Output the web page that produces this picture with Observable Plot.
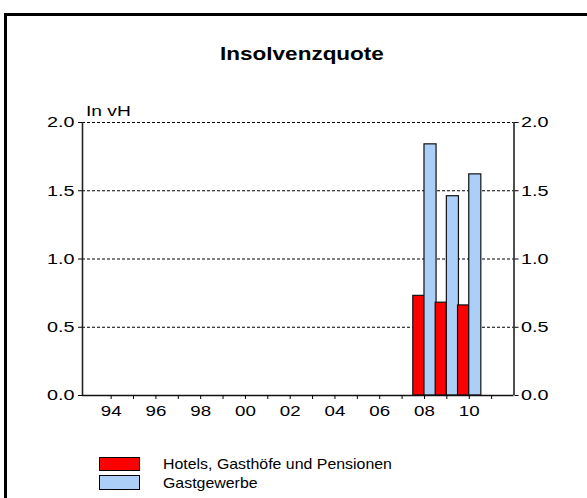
<!DOCTYPE html>
<html>
<head>
<meta charset="utf-8">
<script src="https://cdn.jsdelivr.net/npm/d3@7"></script>
<script src="https://cdn.jsdelivr.net/npm/@observablehq/plot@0.6"></script>
<style>
  html, body { margin: 0; padding: 0; background: #fff; }
  #wrap { position: relative; width: 587px; height: 498px; overflow: hidden; background: #fff;
          font-family: "Liberation Sans", Arial, sans-serif; color: #000; }
  .abs { position: absolute; white-space: nowrap; line-height: 1; }
  #chart { position: absolute; left: 0; top: 100px; }
</style>
</head>
<body>
<div id="wrap">
  <div class="abs" style="left:4px;top:13px;width:3px;height:485px;background:#000"></div>
  <div class="abs" style="left:4px;top:13px;width:583px;height:3px;background:#000"></div>
  <div class="abs" id="title" style="left:152px;top:44.8px;width:300px;text-align:center;font-size:18px;font-weight:bold;transform:scaleX(1.25);transform-origin:50% 50%">Insolvenzquote</div>
  <div class="abs" id="unit" style="left:86px;top:103.3px;font-size:15px;transform:scaleX(1.28);transform-origin:0 50%">In vH</div>
  <div id="chart"></div>
  <div id="legend"></div>
</div>
<script>
// ---- data ----
const years = [2008, 2009, 2010];
const hotels = [0.73, 0.68, 0.66];          // Hotels, Gasthöfe und Pensionen
const gastgewerbe = [1.84, 1.46, 1.62];     // Gastgewerbe
const seriesNames = ["Hotels, Gasthöfe und Pensionen", "Gastgewerbe"];
const seriesColors = ["#ff0000", "#abcff7"];
const xDomain = [1992.72, 2012];
const xTickYears = [1994, 1995, 1996, 1997, 1998, 1999, 2000, 2001, 2002, 2003, 2004, 2005, 2006, 2007, 2008, 2009, 2010, 2011];
const xTickLabels = {1994: "94", 1996: "96", 1998: "98", 2000: "00", 2002: "02", 2004: "04", 2006: "06", 2008: "08", 2010: "10"};
const yTicks = [0, 0.5, 1.0, 1.5, 2.0];
const yGrid = [0.5, 1.0, 1.5, 2.0];

const rows = [];
years.forEach((yr, i) => {
  rows.push({year: yr, series: seriesNames[0], value: hotels[i], a: yr - 0.5, b: yr});
  rows.push({year: yr, series: seriesNames[1], value: gastgewerbe[i], a: yr, b: yr + 0.54});
});

const fmt = d => d.toFixed(1);

const plot = Plot.plot({
  width: 587,
  height: 330,
  marginLeft: 82,
  marginRight: 73.5,
  marginTop: 22,
  marginBottom: 35,
  style: {fontFamily: "'Liberation Sans', Arial, sans-serif", fontSize: "15px", color: "#000", background: "transparent", overflow: "visible"},
  x: {domain: xDomain, axis: null},
  y: {domain: [0, 2], axis: null},
  color: {domain: seriesNames, range: seriesColors},
  marks: [
    Plot.ruleY(yGrid, {stroke: "#000", strokeWidth: 1, strokeDasharray: "3,2"}),
    Plot.rectY(rows, {x1: "a", x2: "b", y: "value", fill: "series", stroke: "#111", strokeWidth: 1.2}),
    Plot.ruleX(xDomain, {stroke: "#222", strokeWidth: 1.6}),
    Plot.ruleY([0], {stroke: "#111", strokeWidth: 1.4}),
    Plot.axisY({ticks: yTicks, tickFormat: fmt, tickSize: 4, tickPadding: 4, anchor: "left", label: null, fontSize: 15}),
    Plot.axisY({ticks: yTicks, tickFormat: fmt, tickSize: 4, tickPadding: 3, anchor: "right", label: null, fontSize: 15}),
    Plot.axisX({ticks: xTickYears, tickFormat: d => xTickLabels[d] || "", tickSize: 4, tickPadding: 6, anchor: "bottom", label: null, fontSize: 15})
  ]
});

// horizontally stretched text like the original
plot.querySelectorAll("text").forEach(t => {
  const lab = (t.closest("g[aria-label]") || {getAttribute: () => ""}).getAttribute("aria-label") || "";
  const s = lab.includes("x-axis") ? 1.25 : 1.32;
  const x = +(t.getAttribute("x") || 0);
  t.removeAttribute("x");
  const tr = t.getAttribute("transform") || "";
  t.setAttribute("transform", `${tr} translate(${x},0) scale(${s},1)`);
});
document.getElementById("chart").appendChild(plot);

// legend
const legend = document.getElementById("legend");
const swTops = [456.7, 475];
const txtTops = [455.6, 475.0];
seriesNames.forEach((name, i) => {
  const sw = document.createElement("div");
  sw.className = "abs";
  sw.style.cssText = `left:99px;top:${swTops[i]}px;width:41px;height:14.5px;background:${seriesColors[i]};border:1.5px solid #000;box-sizing:border-box;`;
  legend.appendChild(sw);
  const tx = document.createElement("div");
  tx.className = "abs";
  tx.textContent = name;
  tx.style.cssText = `left:163.3px;top:${txtTops[i]}px;font-size:15px;transform:scaleX(1.06);transform-origin:0 50%;`;
  legend.appendChild(tx);
});
</script>
</body>
</html>
